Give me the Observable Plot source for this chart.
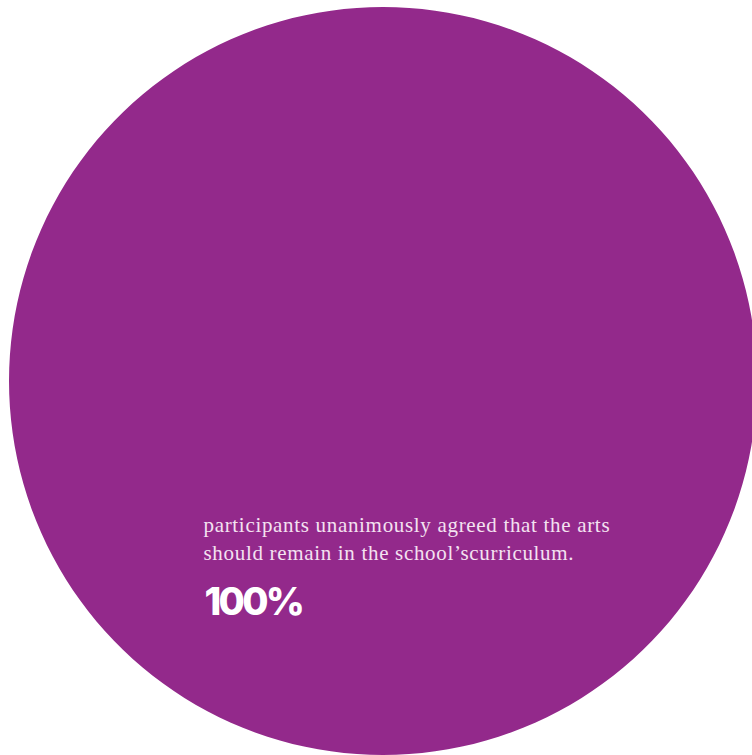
<!DOCTYPE html>
<html>
<head>
<meta charset="utf-8">
<script src="https://cdn.jsdelivr.net/npm/d3@7"></script>
<script src="https://cdn.jsdelivr.net/npm/@observablehq/plot@0.6"></script>
<style>
  html, body { margin: 0; padding: 0; background: #ffffff; }
  #chart svg { display: block; }
  #chart g[font-size="21"] text { letter-spacing: 0.68px; }
  #chart g[font-size="38"] text { letter-spacing: -2.7px; }
</style>
</head>
<body>
<div id="chart"></div>
<script>
// Data
const categories = ["Agree the arts should remain in the curriculum"];
const shares = [100];
const captionLines = [
  "participants unanimously agreed that the arts",
  "should remain in the school\u2019scurriculum."
];
const valueLabels = ["100%"];

const W = 752, H = 755;
const cx = 383, cy = 381, R = 374;

const slices = categories.map((c, i) => ({category: c, share: shares[i]}));

// pie arcs built from the data via d3.pie, drawn through Plot's scales
const pie = d3.pie().value(d => d.share).sort(null)(slices);
const arcPts = [];
pie.forEach((p, i) => {
  const n = 180;
  const full = (p.endAngle - p.startAngle) >= 2 * Math.PI - 1e-9;
  const pts = [];
  if (!full) pts.push({x: cx, y: cy, i});
  for (let k = 0; k <= n; k++) {
    const a = p.startAngle + (p.endAngle - p.startAngle) * k / n;
    pts.push({x: cx + R * Math.sin(a), y: cy - R * Math.cos(a), i});
  }
  arcPts.push(...pts);
});

const lines = captionLines.map((t, i) => ({text: t, x: 203, y: 531 + i * 28.5}));
const big = valueLabels.map(t => ({text: t, x: 204, y: 614}));

const chart = Plot.plot({
  width: W,
  height: H,
  margin: 0,
  x: {domain: [0, W], axis: null},
  y: {domain: [H, 0], axis: null},
  marks: [
    Plot.area(arcPts, {x: "x", y: "y", z: "i", fill: "#93298B", curve: "linear", x1: "x", y1: "y", y2: cy}),
    Plot.text(lines, {
      x: "x", y: "y", text: "text",
      textAnchor: "start", lineAnchor: "bottom",
      fill: "#f4e2f1", fontSize: 21,
      fontFamily: "'Liberation Serif', 'Times New Roman', serif"
    }),
    Plot.text(big, {
      x: "x", y: "y", text: "text",
      textAnchor: "start", lineAnchor: "bottom",
      fill: "#ffffff", fontSize: 38, fontWeight: 800,
      fontFamily: "Inter, 'Open Sans', sans-serif"
    })
  ]
});
document.getElementById("chart").appendChild(chart);
</script>
</body>
</html>
